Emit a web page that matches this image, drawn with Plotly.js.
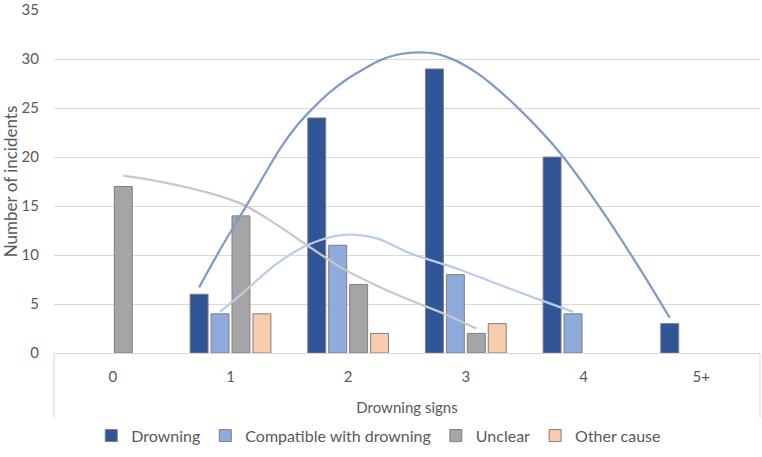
<!DOCTYPE html>
<html>
<head>
<meta charset="utf-8">
<script src="https://cdn.plot.ly/plotly-3.0.1.min.js"></script>
<style>
  html, body { margin: 0; padding: 0; background: #fff; }
  #chart { width: 762px; height: 457px; }
</style>
</head>
<body>
<div id="chart"></div>
<script>
// Number of drowning signs per incident, split by cause of death
const signCategories = ['0', '1', '2', '3', '4', '5+'];
const drowning   = [null, 6, 24, 29, 20, 3];
const compatible = [null, 4, 11, 8, 4, null];
const unclear    = [17, 14, 7, 2, null, null];
const otherCause = [null, 4, 2, 3, null, null];

// Polynomial trend curves, sampled along the sign index (0 = "0", 5 = "5+")
const drowningTrendX = [1, 1.2, 1.4, 1.56, 1.69, 1.83, 1.96, 2.11, 2.25, 2.4, 2.54, 2.68, 2.85, 3.02,
                        3.19, 3.36, 3.47, 3.73, 4.07, 4.41, 4.72, 5];
const drowningTrendY = [6.7, 11.0, 15.0, 18.3, 20.9, 23.2, 24.9, 26.6, 27.9, 29.0, 29.9, 30.45, 30.7, 30.55,
                        29.8, 28.6, 27.6, 24.8, 20.4, 14.8, 9.1, 3.6];
const compatibleTrendX = [1, 1.2, 1.48, 1.76, 2.05, 2.33, 2.61, 2.98, 3.38, 3.69, 4];
const compatibleTrendY = [4.2, 6.2, 9.1, 11.1, 12.05, 11.7, 10.2, 8.75, 6.95, 5.55, 4.2];
const unclearTrendX = [0, 0.31, 0.74, 1.02, 1.3, 1.59, 1.87, 2.15, 2.44, 2.72, 3];
const unclearTrendY = [18.1, 17.5, 16.3, 15.15, 13.13, 10.77, 8.59, 6.9, 5.38, 4.04, 2.5];

const seriesNames = ['Drowning', 'Compatible with drowning', 'Unclear', 'Other cause'];
const barColors = ['#2F5597', '#8FAADC', '#A5A5A5', '#F8CBAD'];
const trendColors = ['#7F9CC4', '#BACDE8', '#C8C8C8'];

const BARGAP = 0.288;
const BARGROUPGAP = 0.143;
const nSeries = 4;
const xs = signCategories.map((_, i) => i);

// centre of the k-th bar within a category group
function slotOffset(k) {
  const slot = (1 - BARGAP) / nSeries;
  return (k - (nSeries - 1) / 2) * slot;
}

const barSeries = [drowning, compatible, unclear, otherCause];
const traces = barSeries.map((vals, k) => ({
  type: 'bar',
  name: seriesNames[k],
  x: xs,
  y: vals,
  marker: { color: barColors[k], line: { color: '#7F7F7F', width: 1 } },
  hoverinfo: 'name+y'
}));

function trend(xv, yv, k, color) {
  const off = slotOffset(k);
  return {
    type: 'scatter',
    mode: 'lines',
    x: xv.map(v => v + off),
    y: yv,
    line: { color: color, width: 2.25, shape: 'spline', smoothing: 0.9 },
    showlegend: false,
    hoverinfo: 'skip'
  };
}

traces.push(trend(unclearTrendX, unclearTrendY, 2, trendColors[2]));
traces.push(trend(compatibleTrendX, compatibleTrendY, 1, trendColors[1]));
traces.push(trend(drowningTrendX, drowningTrendY, 0, trendColors[0]));

const FONT = 'Lato, sans-serif';
const GREY = '#595959';
const axisFont = { family: FONT, size: 15, color: GREY };
const boxBottom = -0.19;

const layout = {
  width: 762,
  height: 457,
  margin: { l: 54, r: 2, t: 10, b: 104 },
  paper_bgcolor: '#ffffff',
  plot_bgcolor: '#ffffff',
  barmode: 'group',
  bargap: BARGAP,
  bargroupgap: BARGROUPGAP,
  font: axisFont,
  showlegend: true,
  legend: {
    orientation: 'h',
    x: 0.46, xanchor: 'center',
    y: -0.241, yanchor: 'middle',
    font: { family: FONT, size: 16, color: GREY },
    itemwidth: 30,
    traceorder: 'normal'
  },
  xaxis: {
    range: [-0.5, 5.5],
    tickmode: 'array',
    tickvals: xs,
    ticktext: signCategories,
    ticks: '',
    showgrid: false,
    zeroline: false,
    showline: true,
    linecolor: '#D9D9D9',
    linewidth: 1,
    ticklabelstandoff: 10,
    tickfont: axisFont,
    title: { text: 'Drowning signs', font: { family: FONT, size: 15, color: GREY }, standoff: 18 },
    fixedrange: true
  },
  yaxis: {
    range: [0, 35.02],
    tickvals: [0, 5, 10, 15, 20, 25, 30, 35],
    ticks: '',
    showgrid: true,
    gridcolor: '#D9D9D9',
    gridwidth: 1,
    zeroline: false,
    showline: false,
    ticklabelstandoff: 14,
    tickfont: axisFont,
    title: { text: 'Number of incidents', font: { family: FONT, size: 17, color: GREY }, standoff: 6 },
    fixedrange: true
  },
  shapes: [
    { type: 'line', xref: 'paper', yref: 'paper', x0: 0, x1: 0, y0: 0, y1: boxBottom,
      line: { color: '#D9D9D9', width: 1 } },
    { type: 'line', xref: 'paper', yref: 'paper', x0: 1, x1: 1, y0: 0, y1: boxBottom,
      line: { color: '#D9D9D9', width: 1 } }
  ]
};

Plotly.newPlot('chart', traces, layout, { displayModeBar: false, staticPlot: true });
</script>
</body>
</html>
